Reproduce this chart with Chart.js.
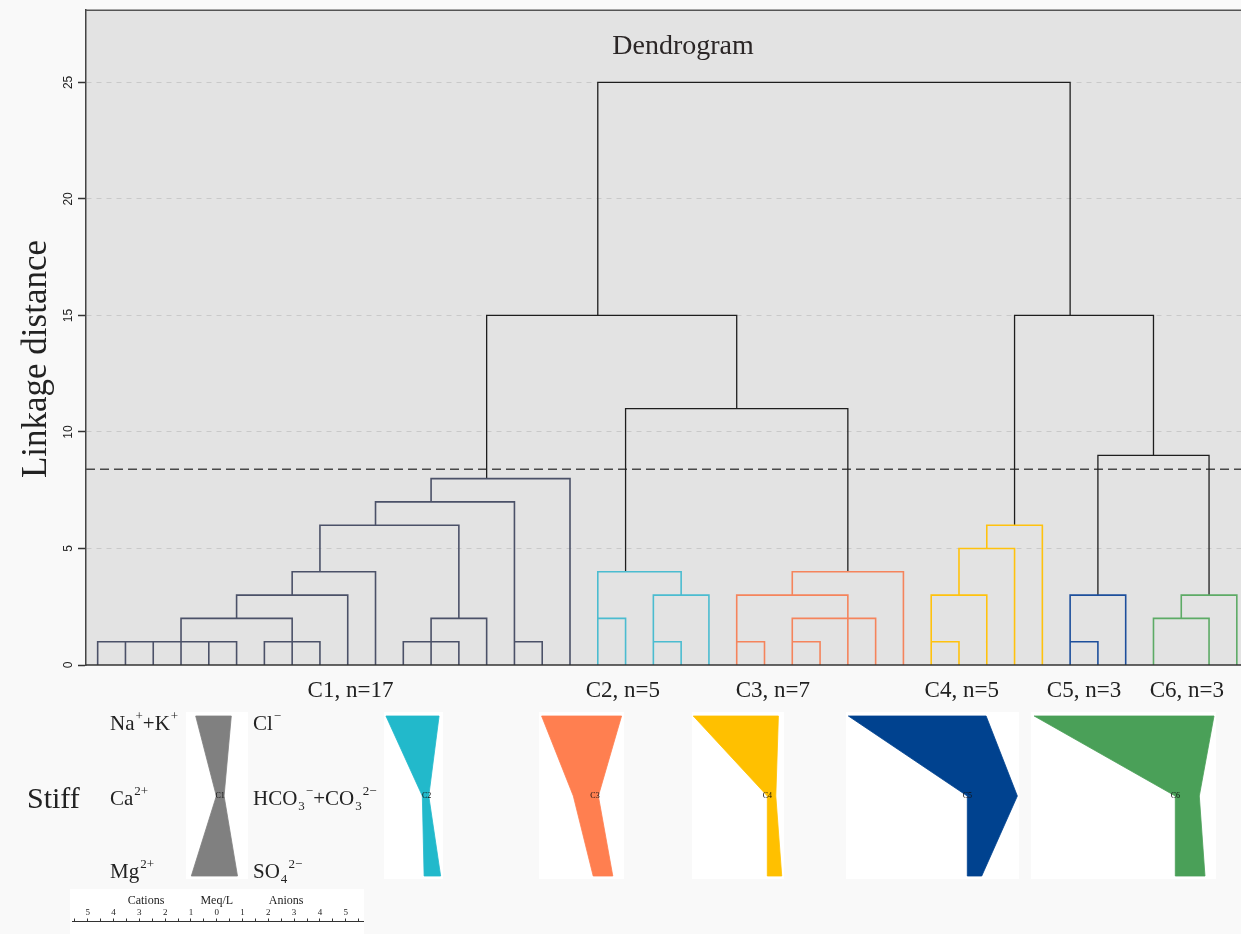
<!DOCTYPE html>
<html lang="en">
<head>
<meta charset="utf-8">
<title>Dendrogram</title>
<script src="https://cdn.jsdelivr.net/npm/chart.js@4.4.1/dist/chart.umd.min.js"></script>
<style>
  html, body { margin: 0; padding: 0; background: #f9f9f9; }
  #page { position: relative; width: 1241px; height: 934px; overflow: hidden; }
  canvas { position: absolute; display: block; }
  .box { position: absolute; background: #fff; }
  .lbl { position: absolute; font-family: "Liberation Serif", "Times New Roman", serif; font-size: 21px;
         color: #222; line-height: 1; white-space: nowrap; transform: translateY(-50%); }
  .lbl sup { font-size: 0.62em; vertical-align: 0.75em; line-height: 0; margin-left: 1px; }
  .lbl sub { font-size: 0.62em; vertical-align: -0.35em; line-height: 0; margin-left: 1px; }
</style>
</head>
<body>
<div id="page">
  <canvas id="dendro" width="1241" height="934" style="left:0;top:0"></canvas>

  <div class="lbl" style="left:27px;top:798px;font-size:30px">Stiff</div>
  <div class="lbl" style="left:110px;top:723px">Na<sup>+</sup>+K<sup>+</sup></div>
  <div class="lbl" style="left:110px;top:798px">Ca<sup>2+</sup></div>
  <div class="lbl" style="left:110px;top:871px">Mg<sup>2+</sup></div>
  <div class="lbl" style="left:253px;top:723px">Cl<sup>−</sup></div>
  <div class="lbl" style="left:253px;top:798px">HCO<sub>3</sub><sup>−</sup>+CO<sub>3</sub><sup>2−</sup></div>
  <div class="lbl" style="left:253px;top:871px">SO<sub>4</sub><sup>2−</sup></div>

  <div class="box" style="left:70px;top:889px;width:294px;height:45px">
    <canvas id="meq" width="294" height="45" style="left:0;top:0"></canvas>
  </div>
</div>

<script>
const SERIF = '"Liberation Serif", "Times New Roman", serif';

// ---- dendrogram data (x = leaf index, y = linkage distance) ----
const yTicks = [0, 5, 10, 15, 20, 25];
const cutHeight = 8.4;

// link: [left x, left base, right x, right base, merge height]
const linksC1 = [
  [0, 0, 1, 0, 1], [1, 0, 2, 0, 1], [2, 0, 3, 0, 1], [3, 0, 4, 0, 1], [4, 0, 5, 0, 1],
  [6, 0, 7, 0, 1], [7, 0, 8, 0, 1],
  [3, 1, 7, 1, 2],
  [5, 2, 9, 0, 3],
  [7, 3, 10, 0, 4],
  [11, 0, 12, 0, 1], [12, 0, 13, 0, 1],
  [12, 1, 14, 0, 2],
  [8, 4, 13, 2, 6],
  [10, 6, 15, 1, 7],
  [15, 0, 16, 0, 1],
  [12, 7, 17, 0, 8]
];
const linksC2 = [[18, 0, 19, 0, 2], [20, 0, 21, 0, 1], [20, 0, 22, 0, 3], [18, 2, 21, 3, 4]];
const linksC3 = [[23, 0, 24, 0, 1], [23, 0, 27, 0, 3], [25, 0, 26, 0, 1], [25, 0, 28, 0, 2], [25, 3, 29, 0, 4]];
const linksC4 = [[30, 0, 31, 0, 1], [30, 0, 32, 0, 3], [31, 3, 33, 0, 5], [32, 5, 34, 0, 6]];
const linksC5 = [[35, 0, 36, 0, 1], [35, 0, 37, 0, 3]];
const linksC6 = [[38, 0, 40, 0, 2], [39, 2, 41, 0, 3]];
const linksTop = [[19, 4, 27, 4, 11], [14, 8, 23, 11, 15], [36, 3, 40, 3, 9], [33, 6, 38, 9, 15], [18, 15, 35, 15, 25]];

const clusterLabels = ['C1, n=17', 'C2, n=5', 'C3, n=7', 'C4, n=5', 'C5, n=3', 'C6, n=3'];
const clusterLabelX = [9.1, 18.9, 24.3, 31.1, 35.5, 39.2];

// ---- Stiff diagram data (meq/L) ----
const stiffNames = ['C1', 'C2', 'C3', 'C4', 'C5', 'C6'];
const naK  = [0.95, 1.58, 2.07, 2.87, 4.61, 5.47];
const ca   = [0.15, 0.17, 0.84, 0.00, 0.00, 0.00];
const mg   = [1.12, 0.10, 0.07, 0.00, 0.00, 0.00];
const cl   = [0.43, 0.48, 1.03, 0.43, 0.73, 1.50];
const hco3 = [0.15, 0.08, 0.13, 0.33, 1.94, 0.93];
const so4  = [0.67, 0.54, 0.69, 0.56, 0.56, 1.15];

// scale bar
const meqTicks = [-5.5, -5, -4.5, -4, -3.5, -3, -2.5, -2, -1.5, -1, -0.5, 0, 0.5, 1, 1.5, 2, 2.5, 3, 3.5, 4, 4.5, 5, 5.5];
const meqCaptions = ['Cations', 'Meq/L', 'Anions'];
const meqCaptionX = [-2.74, 0, 2.69];

// ---- styles / layout ----
const xMin = -0.42, xMax = 41.15, yMax = 28.1;
const groupStyles = [
  { links: linksC1, color: '#4b5168', width: 1.6 },
  { links: linksC2, color: '#4bbcd0', width: 1.6 },
  { links: linksC3, color: '#f5845c', width: 1.6 },
  { links: linksC4, color: '#ffc20e', width: 1.6 },
  { links: linksC5, color: '#1d4f9c', width: 1.6 },
  { links: linksC6, color: '#5dab66', width: 1.6 },
  { links: linksTop, color: '#1e1e1e', width: 1.3 }
];
const stiffColors = ['#808080', '#22b9cb', '#ff7f50', '#ffc000', '#00428f', '#4aa058'];
// [left, top, width, height, zero offset] in px
const stiffLayout = [
  [186, 712, 62, 167, 34.2],
  [384, 712, 59, 167, 42.7],
  [539, 712, 85, 167, 56],
  [692, 712, 92, 167, 75.3],
  [846, 712, 173, 167, 121.3],
  [1031, 712, 185, 167, 144.3]
];
const pxPerMeq = 25.8;

// U-shaped links to a broken polyline
function toPath(links) {
  const pts = [];
  links.forEach(l => {
    pts.push({ x: l[0], y: l[1] }, { x: l[0], y: l[4] }, { x: l[2], y: l[4] }, { x: l[2], y: l[3] });
    pts.push({ x: l[2], y: null });
  });
  return pts;
}

const datasets = groupStyles.map(g => ({
  data: toPath(g.links),
  showLine: true,
  spanGaps: false,
  borderColor: g.color,
  borderWidth: g.width,
  pointRadius: 0,
  fill: false
}));
datasets.push({
  data: [{ x: xMin, y: cutHeight }, { x: xMax, y: cutHeight }],
  showLine: true,
  borderColor: '#484848',
  borderWidth: 1.5,
  borderDash: [9, 5],
  pointRadius: 0
});

const frame = {
  id: 'frame',
  beforeDraw(chart) {
    const { ctx, chartArea: a } = chart;
    ctx.save();
    ctx.fillStyle = '#e3e3e3';
    ctx.fillRect(a.left, a.top, a.right - a.left, a.bottom - a.top);
    ctx.restore();
  },
  afterDatasetsDraw(chart) {
    const { ctx, chartArea: a } = chart;
    ctx.save();
    ctx.strokeStyle = '#555';
    ctx.lineWidth = 1.5;
    ctx.beginPath();
    ctx.moveTo(a.left, a.top);
    ctx.lineTo(a.right, a.top);
    ctx.stroke();
    ctx.strokeStyle = '#333';
    ctx.beginPath();
    ctx.moveTo(a.left, a.bottom);
    ctx.lineTo(a.right, a.bottom);
    ctx.stroke();
    ctx.restore();
  },
  afterDraw(chart) {
    const { ctx } = chart;
    const xs = chart.scales.x;
    ctx.save();
    ctx.fillStyle = '#2b2626';
    ctx.font = '28px ' + SERIF;
    ctx.textAlign = 'center';
    ctx.textBaseline = 'alphabetic';
    ctx.fillText('Dendrogram', 683, 54);

    // axis title
    ctx.fillStyle = '#222';
    ctx.font = '35px ' + SERIF;
    ctx.translate(46, 359);
    ctx.rotate(-Math.PI / 2);
    ctx.fillText('Linkage distance', 0, 0);
    ctx.setTransform(1, 0, 0, 1, 0, 0);

    // cluster captions
    ctx.font = '23px ' + SERIF;
    clusterLabels.forEach((t, i) => {
      ctx.fillText(t, xs.getPixelForValue(clusterLabelX[i]), 697);
    });
    ctx.restore();
  }
};

new Chart(document.getElementById('dendro'), {
  type: 'scatter',
  data: { datasets },
  options: {
    responsive: false,
    animation: false,
    events: [],
    layout: { padding: { left: 0, right: 0, top: 10, bottom: 269 } },
    plugins: { legend: { display: false }, tooltip: { enabled: false } },
    scales: {
      x: { type: 'linear', min: xMin, max: xMax, display: false },
      y: {
        type: 'linear',
        min: 0,
        max: yMax,
        afterFit(s) { s.width = 86; },
        afterBuildTicks(s) { s.ticks = yTicks.map(v => ({ value: v })); },
        ticks: {
          minRotation: 90,
          maxRotation: 90,
          crossAlign: 'center',
          padding: 3,
          color: '#222',
          font: { family: '"Liberation Sans", Arial, sans-serif', size: 12 }
        },
        grid: {
          color: c => (c.tick && c.tick.value === 0) ? 'rgba(0,0,0,0)' : '#c9c9c9',
          lineWidth: 1,
          tickLength: 8,
          tickColor: '#333',
          tickWidth: 1.5
        },
        border: { display: true, color: '#444', width: 1.5, dash: [5, 5] }
      }
    }
  },
  plugins: [frame]
});

// ---- Stiff diagrams ----
const stiffCaption = {
  id: 'stiffCaption',
  afterDatasetsDraw(chart) {
    const { ctx } = chart;
    ctx.save();
    ctx.fillStyle = '#111';
    ctx.font = '8px ' + SERIF;
    ctx.textAlign = 'center';
    ctx.textBaseline = 'middle';
    ctx.fillText(chart.options.plugins.stiffCaption.text,
      chart.scales.x.getPixelForValue(0), chart.scales.y.getPixelForValue(1));
    ctx.restore();
  }
};

const page = document.getElementById('page');
stiffNames.forEach((name, i) => {
  const [left, top, w, h, zero] = stiffLayout[i];
  const box = document.createElement('div');
  box.className = 'box';
  box.style.cssText = `left:${left}px;top:${top}px;width:${w}px;height:${h}px`;
  const cv = document.createElement('canvas');
  cv.width = w;
  cv.height = h;
  cv.style.left = '0px';
  cv.style.top = '0px';
  box.appendChild(cv);
  page.appendChild(box);

  // cations on the left (negative), anions on the right
  const shape = [
    { x: -naK[i], y: 2 }, { x: cl[i], y: 2 }, { x: hco3[i], y: 1 }, { x: so4[i], y: 0 },
    { x: -mg[i], y: 0 }, { x: -ca[i], y: 1 }, { x: -naK[i], y: 2 }
  ];
  new Chart(cv, {
    type: 'scatter',
    data: {
      datasets: [{
        data: shape,
        showLine: true,
        fill: 'shape',
        backgroundColor: stiffColors[i],
        borderColor: stiffColors[i],
        borderWidth: 0.8,
        pointRadius: 0
      }]
    },
    options: {
      responsive: false,
      animation: false,
      events: [],
      layout: { padding: 0 },
      plugins: { legend: { display: false }, tooltip: { enabled: false }, stiffCaption: { text: name } },
      scales: {
        x: { type: 'linear', display: false, min: -zero / pxPerMeq, max: (w - zero) / pxPerMeq },
        y: { type: 'linear', display: false, min: -0.0375, max: 2.05 }
      }
    },
    plugins: [stiffCaption]
  });
});

// ---- meq/L scale bar ----
const meqTitles = {
  id: 'meqTitles',
  afterDraw(chart) {
    const { ctx } = chart;
    const xs = chart.scales.x;
    ctx.save();
    ctx.fillStyle = '#222';
    ctx.font = '12px ' + SERIF;
    ctx.textAlign = 'center';
    ctx.textBaseline = 'middle';
    meqCaptions.forEach((t, i) => ctx.fillText(t, xs.getPixelForValue(meqCaptionX[i]), 11.5));
    ctx.restore();
  }
};

new Chart(document.getElementById('meq'), {
  type: 'scatter',
  data: { datasets: [] },
  options: {
    responsive: false,
    animation: false,
    events: [],
    layout: { padding: { left: 2, right: 1, top: 20, bottom: 0 } },
    plugins: { legend: { display: false }, tooltip: { enabled: false } },
    scales: {
      x: {
        type: 'linear',
        position: 'top',
        min: -5.61,
        max: 5.67,
        afterBuildTicks(s) { s.ticks = meqTicks.map(v => ({ value: v })); },
        ticks: {
          autoSkip: false,
          maxRotation: 0,
          padding: 0,
          color: '#222',
          font: { family: SERIF, size: 9 },
          callback: v => Number.isInteger(v) ? String(Math.abs(v)) : ''
        },
        grid: { drawOnChartArea: false, tickLength: 3, tickColor: '#333', tickWidth: 1 },
        border: { display: true, color: '#333', width: 1 }
      },
      y: { type: 'linear', display: false, min: 0, max: 1 }
    }
  },
  plugins: [meqTitles]
});
</script>
</body>
</html>
